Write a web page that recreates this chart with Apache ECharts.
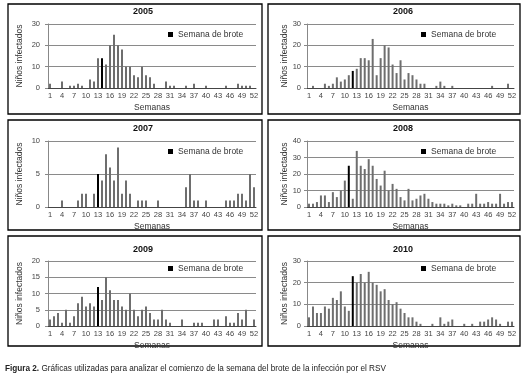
<!DOCTYPE html>
<html>
<head>
<meta charset="utf-8">
<script src="https://cdn.jsdelivr.net/npm/echarts@6/dist/echarts.min.js"></script>
<style>
  html, body { margin: 0; padding: 0; background: #fff; }
  #chart { width: 525px; height: 378px; }
</style>
</head>
<body>
<div id="chart"></div>
<script>
// Semanas 1..52
const weeks = Array.from({ length: 52 }, (_, i) => String(i + 1));

const years = ['2005', '2006', '2007', '2008', '2009', '2010'];
const outbreakWeek = [14, 12, 13, 11, 13, 12];
const yMax = [30, 30, 10, 40, 20, 30];
const yStep = [10, 10, 5, 10, 5, 10];

const cases2005 = [2, 0, 0, 3, 0, 1, 1, 2, 1, 0, 4, 3, 14, 14, 11, 20, 25, 20, 18, 10, 10, 6, 5, 10, 6, 5,
  2, 0, 0, 3, 1, 1, 0, 0, 1, 0, 2, 0, 0, 1, 0, 0, 0, 0, 1, 0, 0, 2, 1, 1, 1, 0];
const cases2006 = [0, 1, 0, 0, 2, 1, 2, 5, 3, 4, 6, 8, 9, 14, 14, 13, 23, 6, 14, 20, 19, 11, 7, 13, 4, 7,
  6, 4, 2, 2, 0, 0, 1, 3, 1, 0, 1, 0, 0, 0, 0, 0, 0, 0, 0, 0, 1, 0, 0, 0, 2, 0];
const cases2007 = [0, 0, 0, 1, 0, 0, 0, 1, 2, 2, 0, 2, 5, 4, 8, 6, 4, 9, 2, 4, 2, 0, 1, 1, 1, 0,
  0, 1, 0, 0, 0, 0, 0, 0, 3, 5, 1, 1, 0, 1, 0, 0, 0, 0, 1, 1, 1, 2, 2, 1, 5, 3];
const cases2008 = [2, 2, 3, 7, 7, 3, 9, 6, 10, 16, 25, 5, 34, 25, 23, 29, 25, 17, 13, 22, 10, 14, 11, 6, 4, 11,
  4, 5, 7, 8, 5, 3, 2, 2, 2, 1, 2, 1, 1, 0, 2, 2, 8, 2, 2, 3, 2, 2, 8, 2, 3, 3];
const cases2009 = [2, 3, 4, 1, 5, 1, 3, 7, 9, 6, 7, 6, 12, 8, 15, 11, 8, 8, 6, 5, 10, 5, 3, 5, 6, 4,
  2, 2, 5, 2, 1, 0, 0, 2, 0, 0, 1, 1, 1, 0, 0, 2, 2, 0, 3, 1, 1, 4, 2, 5, 0, 2];
const cases2010 = [4, 9, 6, 6, 9, 8, 13, 12, 16, 9, 7, 23, 20, 24, 20, 25, 20, 19, 16, 17, 12, 10, 11, 8, 6, 4,
  4, 2, 1, 0, 0, 1, 0, 4, 1, 2, 3, 0, 0, 1, 0, 1, 0, 2, 2, 3, 4, 3, 1, 0, 2, 2];

const allCases = [cases2005, cases2006, cases2007, cases2008, cases2009, cases2010];

// posiciones de los paneles (columna / fila)
const cols = [
  { left: 48, width: 208, box: 8, boxW: 254, title: 133, legend: 168, nameGap: 24, labelMargin: 8 },
  { left: 307, width: 207, box: 268, boxW: 252, title: 393, legend: 421, nameGap: 18, labelMargin: 6 }
];
const rows = [
  { top: 24, height: 64, box: 4, boxH: 110, title: 7, legend: 30 },
  { top: 141, height: 66, box: 120, boxH: 110, title: 124, legend: 147 },
  { top: 261, height: 65, box: 236, boxH: 110, title: 245, legend: 264 }
];

const font = "'Liberation Sans', Arial, sans-serif";
const chart = echarts.init(document.getElementById('chart'));

const pos = years.map((_, i) => ({ c: cols[i % 2], r: rows[Math.floor(i / 2)] }));

chart.setOption({
  animation: false,
  backgroundColor: '#fff',
  textStyle: { fontFamily: font },
  title: [
    ...years.map((y, i) => ({
      text: y,
      left: pos[i].c.title,
      top: pos[i].r.title,
      padding: 0,
      textStyle: { fontSize: 9, fontWeight: 'bold', color: '#111', fontFamily: font }
    })),
    {
      text: '{b|Figura 2.} Gráficas utilizadas para analizar el comienzo de la semana del brote de la infección por el RSV',
      left: 5,
      top: 365,
      padding: 0,
      textStyle: {
        fontSize: 8.2, fontWeight: 'normal', color: '#222', fontFamily: font,
        rich: { b: { fontSize: 8.2, fontWeight: 'bold', color: '#222', fontFamily: font } }
      }
    }
  ],
  legend: years.map((y, i) => ({
    data: ['Semana de brote'],
    left: pos[i].c.legend,
    top: pos[i].r.legend,
    padding: 0,
    icon: 'rect',
    itemWidth: 5,
    itemHeight: 5,
    selectedMode: false,
    textStyle: { fontSize: 8.5, color: '#333', fontFamily: font }
  })),
  graphic: years.map((y, i) => ({
    type: 'rect',
    silent: true,
    shape: { x: pos[i].c.box, y: pos[i].r.box, width: pos[i].c.boxW, height: pos[i].r.boxH },
    style: { fill: 'none', stroke: '#000', lineWidth: 1.3 }
  })),
  grid: years.map((y, i) => ({
    left: pos[i].c.left,
    width: pos[i].c.width,
    top: pos[i].r.top,
    height: pos[i].r.height
  })),
  xAxis: years.map((y, i) => ({
    type: 'category',
    gridIndex: i,
    data: weeks,
    name: 'Semanas',
    nameLocation: 'middle',
    nameGap: 15,
    nameTextStyle: { fontSize: 8.5, color: '#333', fontFamily: font },
    axisLine: { lineStyle: { color: '#444', width: 1 } },
    axisTick: { show: false },
    axisLabel: { interval: 2, fontSize: 7.5, color: '#444', margin: 4, fontFamily: font }
  })),
  yAxis: years.map((y, i) => ({
    type: 'value',
    gridIndex: i,
    min: 0,
    max: yMax[i],
    interval: yStep[i],
    name: 'Niños infectados',
    nameLocation: 'middle',
    nameRotate: 90,
    nameGap: pos[i].c.nameGap,
    nameTextStyle: { fontSize: 8.5, color: '#333', fontFamily: font },
    axisLine: { show: true, lineStyle: { color: '#888' } },
    axisTick: { show: true, length: 3, lineStyle: { color: '#888' } },
    axisLabel: { fontSize: 7.5, color: '#444', margin: pos[i].c.labelMargin, fontFamily: font },
    splitLine: { lineStyle: { color: '#8a8a8a', width: 1 } }
  })),
  series: years.map((y, i) => ({
    type: 'bar',
    name: 'Semana de brote',
    xAxisIndex: i,
    yAxisIndex: i,
    barWidth: 2,
    silent: true,
    itemStyle: { color: '#000' },
    data: allCases[i].map((v, w) =>
      w + 1 === outbreakWeek[i] ? v : { value: v, itemStyle: { color: '#6e6e6e' } })
  }))
});
</script>
</body>
</html>
